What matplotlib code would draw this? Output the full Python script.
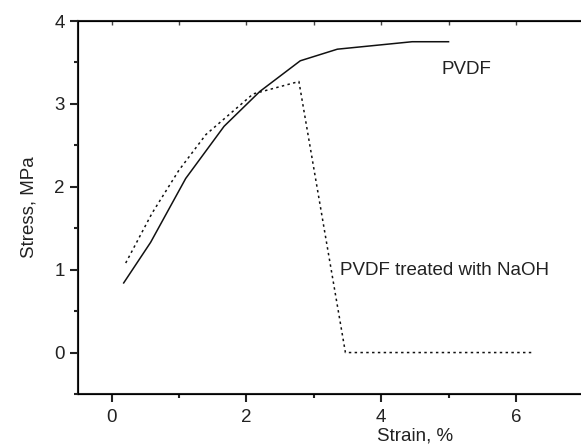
import matplotlib
matplotlib.use('Agg')
import matplotlib.pyplot as plt
from matplotlib.ticker import MultipleLocator

plt.rcParams['font.family'] = ['Liberation Sans', 'DejaVu Sans']

# PVDF (solid)
pvdf_strain = [0.18, 0.58, 1.10, 1.67, 2.20, 2.80, 3.35, 4.46, 5.00]
pvdf_stress = [0.84, 1.33, 2.10, 2.73, 3.15, 3.52, 3.66, 3.75, 3.75]

# PVDF treated with NaOH (dotted)
naoh_strain = [0.21, 0.60, 1.00, 1.40, 2.10, 2.78, 3.47, 6.25]
naoh_stress = [1.08, 1.68, 2.20, 2.63, 3.12, 3.27, 0.00, 0.00]

fig = plt.figure(figsize=(5.81, 4.47), dpi=100)
# axes run past the right edge of the picture (reference is a crop)
ax = fig.add_axes([0.134, 0.1186, 1.16, 0.8344])

ax.plot(pvdf_strain, pvdf_stress, color='#111111', lw=1.1, ls='-')
ax.plot(naoh_strain, naoh_stress, color='#111111', lw=1.1, ls=(0, (1.6, 2.2)))

ax.text(4.9, 3.41, 'PVDF', fontsize=13.5, va='center', ha='left', color='#222222')
ax.text(3.39, 0.99, 'PVDF treated with NaOH', fontsize=13.5, va='center', ha='left', color='#222222')

ax.set_xlim(-0.5, 9.5)
ax.set_ylim(-0.5, 4)
ax.set_xticks([0, 2, 4, 6])
ax.xaxis.set_minor_locator(MultipleLocator(1))
ax.yaxis.set_major_locator(MultipleLocator(1))
ax.yaxis.set_minor_locator(MultipleLocator(0.5))

for sp in ax.spines.values():
    sp.set_linewidth(1.5)
    sp.set_color('#222222')

ax.tick_params(which='major', direction='out', length=6, width=1.5, labelsize=13.5,
               colors='#222222')
ax.tick_params(which='minor', direction='out', length=3, width=1.5, colors='#222222')
ax.tick_params(axis='x', which='major', pad=5)

# small inward ticks along the top
top = ax.twiny()
top.set_xlim(ax.get_xlim())
top.set_xticks([0, 2, 4, 6, 8])
top.xaxis.set_minor_locator(MultipleLocator(1))
top.tick_params(which='both', direction='in', length=3, width=1, colors='#444444',
                labeltop=False)

ax.set_xlabel('Strain, %', fontsize=13.5, labelpad=1, color='#222222')
ax.set_ylabel('Stress, MPa', fontsize=13.5, labelpad=12, color='#222222')

fig.savefig('out.png', dpi=100)
